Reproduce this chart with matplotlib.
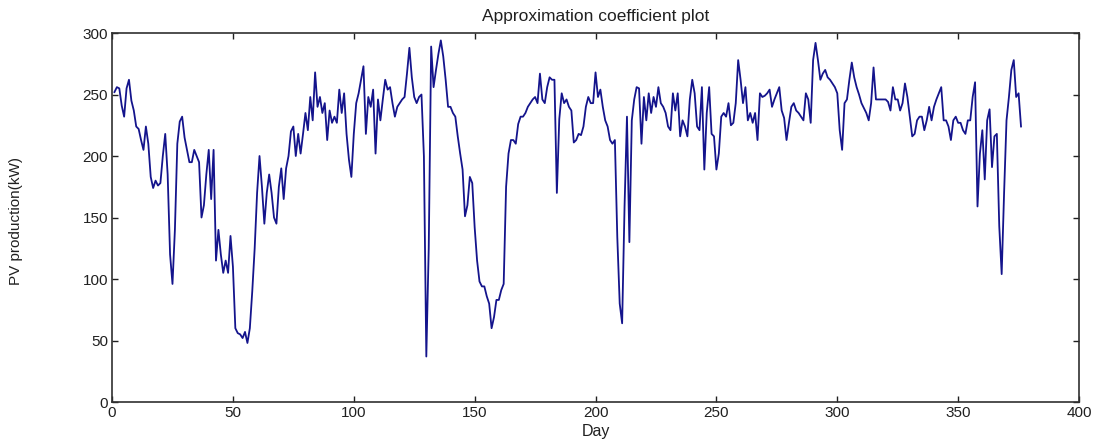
import matplotlib
matplotlib.use("Agg")
import matplotlib.pyplot as plt
import numpy as np

# daily approximation coefficients (kW), day 1 .. 376
pv_part1 = [252, 256, 255, 241, 232, 255, 262, 245, 237, 224,
            222, 213, 205, 224, 210, 183, 174, 180, 176, 178,
            200, 218, 185, 120, 96, 140, 210, 228, 232, 215,
            205, 195, 195, 205, 200, 195, 150, 160, 185, 205,
            165, 205, 115, 140, 120, 105, 115, 105, 135, 110,
            60, 56, 55, 52, 57, 48, 60, 90, 125, 170,
            200, 175, 145, 170, 185, 170, 150, 145, 175, 190,
            165, 190, 200, 220, 224, 200, 218]
pv_part2 = [202, 218, 235, 221, 248, 229, 268, 240, 248, 235,
            243, 213, 237, 227, 232, 227, 254, 235, 251, 218,
            197, 183, 218, 243, 251, 262, 273, 218, 248, 240,
            254, 202, 246, 229, 246, 262, 254, 256, 243, 232,
            240, 243, 246, 248, 267, 288, 264, 248, 243, 248]
pv_part3 = [250, 200, 37, 125, 289, 256, 270, 283, 294, 281,
            262, 240, 240, 235, 232, 216, 202, 189, 151, 160,
            183, 178, 142, 115, 98]
pv_part4 = [94, 94, 86, 80, 60, 69, 83, 83, 91, 96,
            175, 202, 213, 213, 210, 226, 232, 232, 235, 240,
            243, 246, 248, 243, 267, 246, 243, 256, 264, 262,
            262, 170, 230, 251, 243, 246, 240, 237, 211, 213,
            218, 217, 224, 240, 248, 243, 243, 268, 248, 254,
            240, 229, 224, 213, 210, 213, 134, 80, 64, 159,
            232, 130, 229, 246, 256, 255, 210, 248, 229, 251,
            235, 248, 240, 256, 243, 240, 235, 224, 221, 251,
            237, 251]
pv_part5 = [216, 229, 224, 216, 246, 262, 251, 224, 221, 256,
            189, 235, 256, 218, 216, 189, 202, 232, 235, 232,
            243, 225, 227, 243, 278, 262, 243, 256, 229, 235,
            227, 235, 213, 251, 248, 249, 251, 254, 240, 246,
            251, 256, 237, 231, 213, 227, 240, 243, 237, 235,
            232, 229, 251, 246, 227, 278, 292, 278, 262, 267,
            270, 264, 262, 259, 256, 251, 221, 205, 243, 246,
            262, 276, 264, 256, 250, 243, 239, 235, 229]
pv_part6 = [243, 272, 246, 246, 246, 246, 246, 244, 237, 256,
            246, 246, 237, 243, 259, 248, 232, 216, 218, 229,
            232, 232, 221, 229, 240, 229, 240, 246, 251, 256,
            229, 229, 224, 213, 229, 232, 227, 227, 221, 218,
            229, 229, 248, 260, 159, 202, 221, 181, 229, 238,
            191, 216, 218, 143, 104, 170, 229, 248, 270, 278,
            248, 251, 224]

pv = pv_part1 + pv_part2 + pv_part3 + pv_part4 + pv_part5 + pv_part6
days = np.arange(1, len(pv) + 1)

x_ticks = [0, 50, 100, 150, 200, 250, 300, 350, 400]
y_ticks = [0, 50, 100, 150, 200, 250, 300]

plt.rcParams['font.family'] = ['Liberation Sans', 'DejaVu Sans']

fig = plt.figure(figsize=(11.05, 4.41), dpi=100)
ax = fig.add_axes([0.1014, 0.0884, 0.8751, 0.8367])

ax.plot(days, pv, color='#14148c', linewidth=1.3)

ax.set_xlim(0, 400)
ax.set_ylim(0, 300)
ax.set_xticks(x_ticks)
ax.set_yticks(y_ticks)
ax.tick_params(direction='in', length=4, width=1, top=True, right=True,
               labelsize=11, colors='#202020', pad=3)
for s in ax.spines.values():
    s.set_linewidth(1.2)
    s.set_color('#303030')

ax.set_title('Approximation coefficient plot', fontsize=12.5, pad=9, color='#202020')
ax.set_xlabel('Day', fontsize=11.5, labelpad=3, color='#202020')
ax.set_ylabel('PV production(kW)', fontsize=11, color='#202020')
ax.yaxis.set_label_coords(-0.092, 0.49)

fig.savefig('out.png', dpi=100)
